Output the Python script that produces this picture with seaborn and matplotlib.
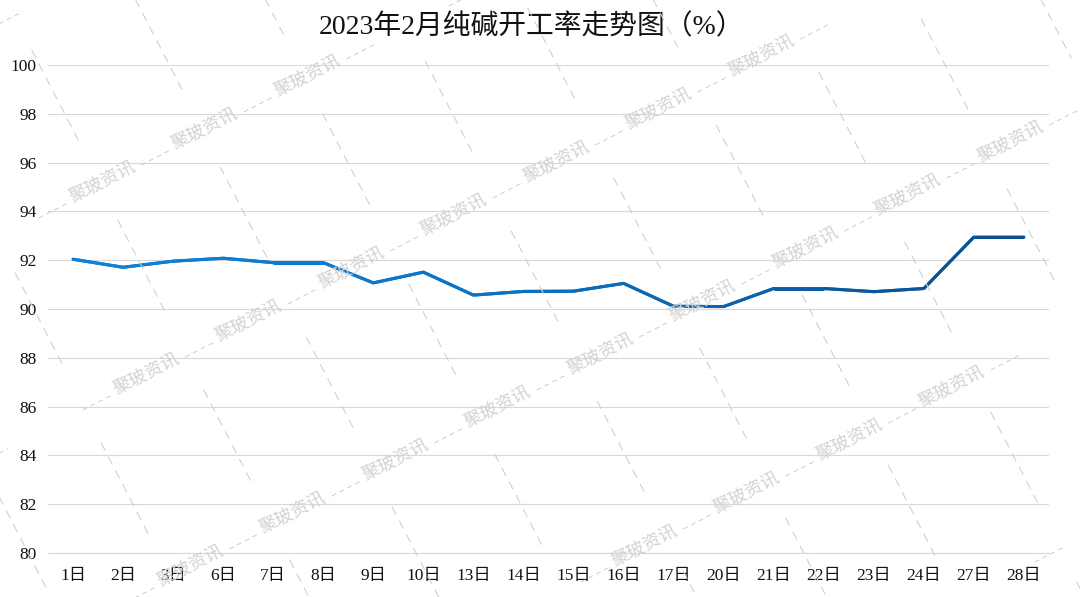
import numpy as np
import pandas as pd
import matplotlib
matplotlib.use('Agg')
import matplotlib.pyplot as plt
import seaborn as sns
from matplotlib.lines import Line2D
from matplotlib.colors import to_rgb

# data
days = ['1日', '2日', '3日', '6日', '7日', '8日', '9日', '10日', '13日', '14日',
        '15日', '16日', '17日', '20日', '21日', '22日', '23日', '24日', '27日', '28日']
rate = [92.04, 91.71, 91.96, 92.08, 91.90, 91.90, 91.07, 91.51, 90.57, 90.72,
        90.73, 91.05, 90.11, 90.10, 90.84, 90.84, 90.71, 90.84, 92.95, 92.95]
yticks = list(range(80, 101, 2))
title = '2023年2月纯碱开工率走势图（%）'
mark = '聚玻资讯'

W, H = 1080, 597

sns.set_theme(style='white')
plt.rcParams['font.family'] = ['Liberation Serif', 'Noto Sans CJK SC']
plt.rcParams['axes.unicode_minus'] = False

fig = plt.figure(figsize=(W / 100, H / 100), dpi=100)
ax = fig.add_axes([48 / W, 44 / H, 1001 / W, 488 / H])

n = len(days)
c0 = np.array(to_rgb('#0a82da'))
c1 = np.array(to_rgb('#0b4c8a'))

# base line (fills the joints), then segments on top for the light-to-dark fade
sns.lineplot(x=np.arange(n), y=rate, color=tuple((c0 + c1) / 2), lw=2.2,
             ax=ax, zorder=2)

rows = []
for i in range(n - 1):
    key = 's%02d' % i
    rows.append((i, rate[i], key))
    rows.append((i + 1, rate[i + 1], key))
seg = pd.DataFrame(rows, columns=['pos', 'rate', 'seg'])
keys = ['s%02d' % i for i in range(n - 1)]
pal = {}
for i, k in enumerate(keys):
    t = (i + 0.5) / (n - 1)
    pal[k] = tuple(c0 + (c1 - c0) * t ** 1.5)
sns.lineplot(data=seg, x='pos', y='rate', hue='seg', hue_order=keys, palette=pal,
             legend=False, estimator=None, sort=False, lw=2.2,
             solid_capstyle='butt', ax=ax, zorder=3)

ax.set_xlim(-0.5, n - 0.5)
ax.set_ylim(80, 100)
ax.set_yticks(yticks)
ax.set_xticks(range(n))
ax.set_xticklabels(days)
ax.set_xticks(np.arange(-0.5, n, 1.0), minor=True)
ax.tick_params(axis='both', which='major', length=0, labelsize=12.5, colors='#111111')
ax.tick_params(axis='y', pad=8)
ax.tick_params(axis='x', pad=11)
ax.tick_params(axis='x', which='minor', length=4, width=0.8, color='#d9d9d9', direction='out')
ax.grid(axis='y', color='#d9d9d9', lw=0.8)
ax.set_axisbelow(True)
for s in ['top', 'right', 'left']:
    ax.spines[s].set_visible(False)
ax.spines['bottom'].set_color('#d9d9d9')
ax.spines['bottom'].set_linewidth(0.8)
ax.set_xlabel('')
ax.set_ylabel('')

fig.text(532 / W, 1 - 27 / H, title, ha='center', va='center', fontsize=20, color='#111111')

# watermark tiles (pixel coords, y down)
u = np.array([102.5, -53.0])
un = u / np.hypot(*u)
nv = np.array([-un[1], un[0]])
v = np.array([44.0, 192.0])
w = np.array([86.0, 170.0])
ang = np.degrees(np.arctan2(53.0, 102.5))
wm = '#d2d2d2'

o = np.array([102.0, 182.0])
for j in range(-3, 6):
    for i in range(-8, 16):
        p = o + i * u + j * v
        # only whole tiles, so no watermark text sticks out of the picture
        if 45 < p[0] < W - 45 and 30 < p[1] < H - 30:
            fig.text(p[0] / W, 1 - p[1] / H, mark, rotation=ang, rotation_mode='anchor',
                     ha='center', va='center', fontsize=13, color=wm,
                     family='Noto Sans CJK SC', zorder=5)
        if -80 < p[0] < W + 80 and -40 < p[1] < H + 40:
            a = p + u * 0.37 + nv * 3
            b = p + u * 0.64 + nv * 3
            fig.add_artist(Line2D([a[0] / W, b[0] / W], [1 - a[1] / H, 1 - b[1] / H],
                                  transform=fig.transFigure, color='#cccccc', lw=0.7,
                                  dashes=(5, 4), zorder=5))

o2 = np.array([244.0, 213.0])
for j in range(-3, 6):
    for i in range(-8, 16):
        p = o2 + i * u + j * w
        if -80 < p[0] < W + 80 and -60 < p[1] < H + 60:
            a = p - nv * 52
            b = p + nv * 52
            fig.add_artist(Line2D([a[0] / W, b[0] / W], [1 - a[1] / H, 1 - b[1] / H],
                                  transform=fig.transFigure, color='#d0d0d0', lw=0.8,
                                  dashes=(8, 6), zorder=5))

fig.savefig('out.png', dpi=100)
